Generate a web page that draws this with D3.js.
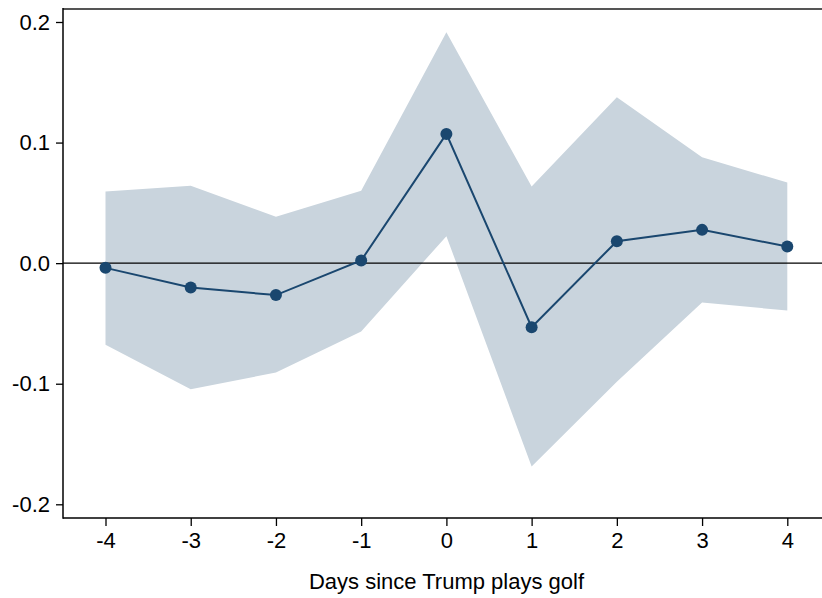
<!DOCTYPE html>
<html>
<head>
<meta charset="utf-8">
<script src="https://cdn.jsdelivr.net/npm/d3@7"></script>
<style>
  html, body { margin: 0; padding: 0; background: #fff; }
  svg { display: block; font-family: "Liberation Sans", Arial, sans-serif; }
</style>
</head>
<body>
<svg id="chart" width="822" height="598"></svg>
<script>
const days = [-4, -3, -2, -1, 0, 1, 2, 3, 4];
const estimate = [-0.0039, -0.0202, -0.0265, 0.0022, 0.1072, -0.0531, 0.0182, 0.0276, 0.0138];
const upper = [0.0594, 0.0641, 0.0384, 0.0600, 0.1915, 0.0635, 0.1376, 0.0879, 0.0668];
const lower = [-0.0677, -0.1045, -0.0907, -0.0567, 0.0224, -0.1687, -0.0984, -0.0327, -0.0393];
const yTicks = [-0.2, -0.1, 0.0, 0.1, 0.2];
const yTickLabels = ["-0.2", "-0.1", "0.0", "0.1", "0.2"];
const xLabel = "Days since Trump plays golf";

(function () {
const svg = d3.select("#chart");
const mLeft = 63, mTop = 9, mBottom = 518, mRight = 822;
const fs = 22;

const x = d3.scaleLinear().domain([-4, 4]).range([105.5, 787.3]);
const y = d3.scaleLinear().domain([-0.2, 0.2]).range([504.3, 22]);

const data = days.map((d, i) => ({ d, e: estimate[i], u: upper[i], l: lower[i] }));

// CI band
svg.append("path")
  .datum(data)
  .attr("fill", "#c9d4dd")
  .attr("d", d3.area().x(p => x(p.d)).y0(p => y(p.l)).y1(p => y(p.u)));

// zero line
svg.append("line")
  .attr("x1", mLeft).attr("x2", mRight)
  .attr("y1", y(0)).attr("y2", y(0))
  .attr("stroke", "#000").attr("stroke-width", 1.3);

// estimate line
svg.append("path")
  .datum(data)
  .attr("fill", "none")
  .attr("stroke", "#1a476f")
  .attr("stroke-width", 2)
  .attr("d", d3.line().x(p => x(p.d)).y(p => y(p.e)));

svg.selectAll("circle.pt")
  .data(data)
  .join("circle")
  .attr("class", "pt")
  .attr("cx", p => x(p.d))
  .attr("cy", p => y(p.e))
  .attr("r", 6)
  .attr("fill", "#1a476f");

// top border
svg.append("line")
  .attr("x1", mLeft).attr("x2", mRight)
  .attr("y1", mTop).attr("y2", mTop)
  .attr("stroke", "#555").attr("stroke-width", 2);

// y axis
const yAxis = d3.axisLeft(y)
  .tickValues(yTicks)
  .tickFormat((d, i) => yTickLabels[i])
  .tickSize(7)
  .tickPadding(6);
const gy = svg.append("g").attr("transform", `translate(${mLeft},0)`).call(yAxis);
gy.select(".domain").remove();
gy.selectAll(".tick line").attr("stroke", "#000").attr("stroke-width", 1.3);
gy.selectAll(".tick text").attr("font-size", fs).attr("fill", "#000")
  .attr("font-family", '"Liberation Sans", Arial, sans-serif');
svg.append("line")
  .attr("x1", mLeft).attr("x2", mLeft)
  .attr("y1", mTop - 1).attr("y2", mBottom + 0.75)
  .attr("stroke", "#000").attr("stroke-width", 1.5);

// x axis
const xAxis = d3.axisBottom(x)
  .tickValues(days)
  .tickFormat(d => d < 0 ? "-" + Math.abs(d) : String(d))
  .tickSize(8)
  .tickPadding(6);
const gx = svg.append("g").attr("transform", `translate(0,${mBottom})`).call(xAxis);
gx.select(".domain").remove();
gx.selectAll(".tick line").attr("stroke", "#000").attr("stroke-width", 1.3);
gx.selectAll(".tick text").attr("font-size", fs).attr("fill", "#000")
  .attr("font-family", '"Liberation Sans", Arial, sans-serif');
svg.append("line")
  .attr("x1", mLeft).attr("x2", mRight)
  .attr("y1", mBottom).attr("y2", mBottom)
  .attr("stroke", "#000").attr("stroke-width", 1.5);

// x label
svg.append("text")
  .attr("x", 446.5).attr("y", 589)
  .attr("text-anchor", "middle")
  .attr("font-size", fs)
  .attr("fill", "#000")
  .text(xLabel);
})();
</script>
</body>
</html>
